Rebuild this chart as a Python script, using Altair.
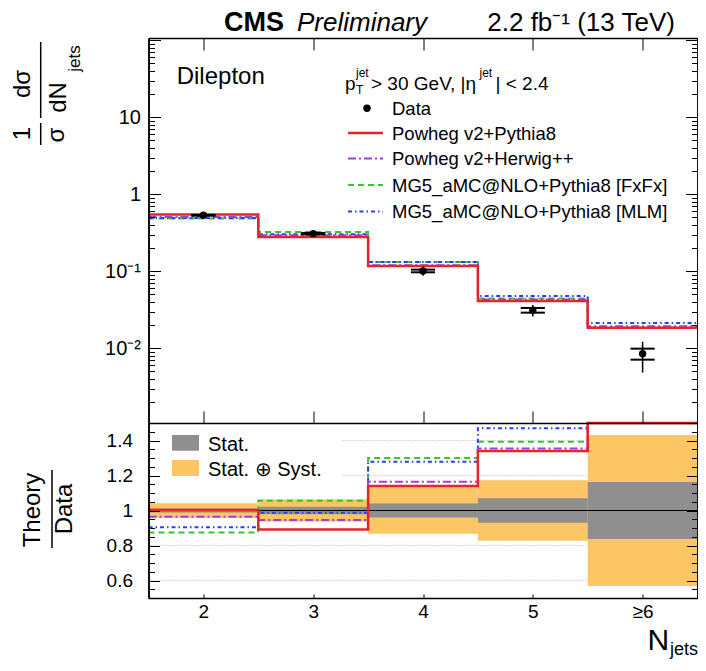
import json
import altair as alt
import pandas as pd

FONT = "Liberation Sans"

# ---------------- data ----------------
nj_centers = [2, 3, 4, 5, 6]
nj_labels = ["2", "3", "4", "5", "≥6"]

data_vals = [0.533, 0.308, 0.101, 0.0312, 0.0085]
stat_rel = [0.012, 0.021, 0.040, 0.070, 0.163]
total_rel = [0.042, 0.064, 0.133, 0.173, 0.431]

pred_pp8 = [0.545, 0.279, 0.117, 0.0412, 0.0184]
pred_phw = [0.508, 0.294, 0.120, 0.0429, 0.0193]
pred_fxfx = [0.483, 0.324, 0.132, 0.0442, 0.0184]
pred_mlm = [0.490, 0.303, 0.132, 0.0478, 0.0213]

ratio_pp8 = [1.003, 0.892, 1.140, 1.340, 2.16]
ratio_phw = [0.965, 0.946, 1.165, 1.355, 2.27]
ratio_fxfx = [0.875, 1.056, 1.300, 1.393, 2.16]
ratio_mlm = [0.904, 0.987, 1.279, 1.470, 2.51]

series_names = ["Powheg v2+Pythia8", "Powheg v2+Herwig++",
                "MG5_aMC@NLO+Pythia8 [FxFx]", "MG5_aMC@NLO+Pythia8 [MLM]"]
series_colors = ["#e3262b", "#a33be0", "#2fc82f", "#2b3cf5"]
series_dash = [[], [8, 3, 2, 3], [6, 4], [4, 3, 1.5, 3]]
series_width = [2.5, 2, 2, 2]
upper_preds = [pred_pp8, pred_phw, pred_fxfx, pred_mlm]
lower_ratios = [ratio_pp8, ratio_phw, ratio_fxfx, ratio_mlm]
draw_order = [2, 3, 1, 0]

# ---------------- geometry ----------------
W, HU, HL = 549, 385, 175
H = HU + HL
PAD = {"left": 140.5, "top": 30, "right": 0.5, "bottom": 63}

x_scale = alt.Scale(domain=[1.5, 6.5], nice=False, zero=False)
yu_scale = alt.Scale(type="log", domain=[1.07e-3, 107.0], range=[HU, 0], nice=False)
yl_scale = alt.Scale(domain=[0.5, 1.5], range=[H, HU], nice=False, zero=False, clamp=True)

edges = [c - 0.5 for c in nj_centers] + [nj_centers[-1] + 0.5]
half_cap = 0.11

one = pd.DataFrame({"k": [0]})
anchor = pd.DataFrame({"x": [2.0], "y": [1.0]})


def step_frame(vals):
    return pd.DataFrame({"x": edges, "y": list(vals) + [vals[-1]]})


def line_layer(vals, i, ys):
    kw = dict(color=series_colors[i], strokeWidth=series_width[i], interpolate="step-after")
    if series_dash[i]:
        kw["strokeDash"] = series_dash[i]
    return alt.Chart(step_frame(vals)).mark_line(**kw).encode(
        x=alt.X("x:Q", scale=x_scale, axis=None),
        y=alt.Y("y:Q", scale=ys, axis=None))


def txt(s, x, y, size, align="left", baseline="alphabetic", angle=0, **kw):
    props = dict(text=s, fontSize=size, font=FONT, align=align, baseline=baseline,
                 color="black", **kw)
    if angle:
        props["angle"] = angle
    return alt.Chart(one).mark_text(**props).encode(x=alt.value(x), y=alt.value(y))


def vbar(x, y1, y2, w=1.5):
    return alt.Chart(one).mark_rule(color="black", strokeWidth=w).encode(
        x=alt.value(x), y=alt.value(y1), y2=alt.value(y2))


def tick_axis(orient, offset, values, size):
    return alt.Axis(orient=orient, offset=offset, values=values, tickSize=size, ticks=True,
                    labels=False, domain=True, domainColor="black", domainWidth=1.5,
                    grid=False, title=None, tickColor="black", tickWidth=1, zindex=1)


def axis_layer(ys, xaxis, yaxis):
    return alt.Chart(anchor).mark_point(opacity=0).encode(
        x=alt.X("x:Q", scale=x_scale, axis=xaxis),
        y=alt.Y("y:Q", scale=ys, axis=yaxis))


layers = []

# ================= upper panel =================
dpts = pd.DataFrame({
    "x": nj_centers,
    "y": data_vals,
    "lo": [v * (1 - e) for v, e in zip(data_vals, total_rel)],
    "hi": [v * (1 + e) for v, e in zip(data_vals, total_rel)],
})
caps = pd.DataFrame({
    "xl": [c - half_cap for c in nj_centers] * 2,
    "xr": [c + half_cap for c in nj_centers] * 2,
    "y": [v * (1 + s) for v, s in zip(data_vals, stat_rel)]
         + [v * (1 - s) for v, s in zip(data_vals, stat_rel)],
})

u_major = [0.01, 0.1, 1, 10, 100]
u_minor = [m * 10.0 ** k for k in range(-3, 2) for m in range(2, 10)]

for i in draw_order:
    layers.append(line_layer(upper_preds[i], i, yu_scale))

layers.append(alt.Chart(dpts).mark_rule(color="black", strokeWidth=1.5).encode(
    x=alt.X("x:Q", scale=x_scale, axis=None),
    y=alt.Y("lo:Q", scale=yu_scale, axis=None), y2="hi:Q"))
layers.append(alt.Chart(caps).mark_rule(color="black", strokeWidth=2).encode(
    x=alt.X("xl:Q", scale=x_scale, axis=None), x2="xr:Q",
    y=alt.Y("y:Q", scale=yu_scale, axis=None)))
layers.append(alt.Chart(dpts).mark_circle(size=55, color="black", opacity=1).encode(
    x=alt.X("x:Q", scale=x_scale, axis=None),
    y=alt.Y("y:Q", scale=yu_scale, axis=None)))

u_label_axis = alt.Axis(orient="left", values=[0.01, 0.1, 1, 10],
                        labelExpr="datum.value < 0.05 ? '10⁻²' : datum.value < 0.5 ? '10⁻¹' : datum.value < 5 ? '1' : '10'",
                        ticks=False, tickSize=0, domain=False, grid=False, labelFontSize=20,
                        labelPadding=8, labelFont=FONT, labelColor="black", title=None,
                        labelOverlap=False, labelFlush=False)
layers += [
    axis_layer(yu_scale, tick_axis("bottom", -H, nj_centers, 12), u_label_axis),
    axis_layer(yu_scale, tick_axis("top", -HU, nj_centers, 12), tick_axis("right", -W, u_major, 12)),
    axis_layer(yu_scale, None, tick_axis("right", -W, u_minor, 6)),
    axis_layer(yu_scale, None, tick_axis("left", -W, u_major, 12)),
    axis_layer(yu_scale, None, tick_axis("left", -W, u_minor, 6)),
]

# header and annotations
layers += [
    txt("CMS", 75.5, -7, 27, fontWeight="bold"),
    txt("Preliminary", 148.5, -7, 26, fontStyle="italic"),
    txt("2.2 fb⁻¹ (13 TeV)", 526.5, -7, 26, align="right"),
    txt("Dilepton", 28.2, 46.3, 24),
    txt("p", 196.5, 52, 19),
    txt("jet", 207.5, 39, 12),
    txt("T", 207.5, 56, 12),
    txt("> 30 GeV, |η", 222.5, 52, 19),
    txt("jet", 331, 39, 12),
    txt("| < 2.4", 347, 52, 19),
]

# legend
leg_rows = [70.3, 95.0, 120.5, 147.0, 173.5]
layers.append(alt.Chart(one).mark_circle(size=55, color="black", opacity=1).encode(
    x=alt.value(218.5), y=alt.value(leg_rows[0])))
layers.append(txt("Data", 243.5, leg_rows[0] + 6.6, 18.5))
for j in range(4):
    kw = dict(color=series_colors[j], strokeWidth=series_width[j])
    if series_dash[j]:
        kw["strokeDash"] = series_dash[j]
    layers.append(alt.Chart(one).mark_rule(**kw).encode(
        x=alt.value(199.5), x2=alt.value(234.5), y=alt.value(leg_rows[j + 1])))
    layers.append(txt(series_names[j], 243.5, leg_rows[j + 1] + 6.6, 18.5))

# y title (rotated fraction)
layers += [
    txt("1", -125.5, 95.5, 24, align="center", baseline="middle", angle=270),
    txt("σ", -92, 97, 24, align="center", baseline="middle", angle=270),
    vbar(-107.8, 85, 107),
    txt("dσ", -125.5, 46, 24, align="center", baseline="middle", angle=270),
    txt("dN", -89.5, 59.5, 24, align="center", baseline="middle", angle=270),
    txt("jets", -73.5, 20.5, 17, align="center", baseline="middle", angle=270),
    vbar(-107.8, 4, 80),
]

# ================= lower panel =================
bands = pd.DataFrame({
    "xl": edges[:-1],
    "xr": edges[1:],
    "slo": [1 - s for s in stat_rel],
    "shi": [1 + s for s in stat_rel],
    "tlo": [1 - t for t in total_rel],
    "thi": [1 + t for t in total_rel],
})
grid_vals = pd.DataFrame({"g": [0.6, 0.8, 1.2, 1.4]})
unity = pd.DataFrame({"u": [1.0]})

l_major = [0.6, 0.8, 1.0, 1.2, 1.4]
l_minor = [0.55, 0.65, 0.7, 0.75, 0.85, 0.9, 0.95, 1.05, 1.1, 1.15, 1.25, 1.3, 1.35, 1.45]

layers += [
    alt.Chart(grid_vals).mark_rule(color="#b5b5b5", strokeWidth=1, strokeDash=[1, 2]).encode(
        y=alt.Y("g:Q", scale=yl_scale, axis=None)),
    alt.Chart(one).mark_rect(color="white").encode(
        x=alt.value(2), x2=alt.value(193), y=alt.value(HU + 2), y2=alt.value(HU + 58)),
    alt.Chart(bands).mark_rect(color="#fcc664").encode(
        x=alt.X("xl:Q", scale=x_scale, axis=None), x2="xr:Q",
        y=alt.Y("tlo:Q", scale=yl_scale, axis=None), y2="thi:Q"),
    alt.Chart(bands).mark_rect(color="#8f8f8f").encode(
        x=alt.X("xl:Q", scale=x_scale, axis=None), x2="xr:Q",
        y=alt.Y("slo:Q", scale=yl_scale, axis=None), y2="shi:Q"),
    alt.Chart(unity).mark_rule(color="black", strokeWidth=1).encode(
        y=alt.Y("u:Q", scale=yl_scale, axis=None)),
]
for i in draw_order:
    layers.append(line_layer(lower_ratios[i], i, yl_scale))

x_label_axis = alt.Axis(orient="bottom", values=nj_centers,
                        labelExpr=json.dumps(nj_labels, ensure_ascii=False) + "[datum.value - 2]",
                        ticks=False, tickSize=0, domain=False, grid=False, labelFontSize=19,
                        labelPadding=4, labelFont=FONT, labelColor="black", title=None,
                        labelOverlap=False, labelFlush=False)
l_label_axis = alt.Axis(orient="left", values=l_major,
                        labelExpr="datum.value == 1 ? '1' : format(datum.value, '.1f')",
                        ticks=False, tickSize=0, domain=False, grid=False, labelFontSize=19,
                        labelPadding=16, labelFont=FONT, labelColor="black", title=None,
                        labelOverlap=False, labelFlush=False)
layers += [
    axis_layer(yl_scale, x_label_axis, l_label_axis),
    axis_layer(yl_scale, tick_axis("top", -H, nj_centers, 4), tick_axis("right", -W, l_major, 11)),
    axis_layer(yl_scale, None, tick_axis("right", -W, l_minor, 6)),
    axis_layer(yl_scale, None, tick_axis("left", -W, l_major, 11)),
    axis_layer(yl_scale, None, tick_axis("left", -W, l_minor, 6)),
]

# legend of lower panel
layers += [
    alt.Chart(one).mark_rect(color="#8f8f8f").encode(
        x=alt.value(23.5), x2=alt.value(50.5), y=alt.value(HU + 12), y2=alt.value(HU + 27.7)),
    alt.Chart(one).mark_rect(color="#fcc664").encode(
        x=alt.value(23.5), x2=alt.value(50.5), y=alt.value(HU + 37), y2=alt.value(HU + 53)),
    txt("Stat.", 59.5, HU + 28, 20),
    txt("Stat. ⊕ Syst.", 59.5, HU + 53, 20),
]

# y title and x title
layers += [
    txt("Theory", -115.5, HU + 87, 24, align="center", baseline="middle", angle=270),
    txt("Data", -83.2, HU + 86, 24, align="center", baseline="middle", angle=270),
    vbar(-96.5, HU + 47, HU + 125),
    txt("N", 499, 612, 30),
    txt("jets", 521.5, 617, 18),
]

chart = alt.layer(*layers).properties(
    width=W, height=H,
    autosize=alt.AutoSizeParams(type="none"),
    padding=PAD,
).resolve_scale(y="independent").resolve_axis(
    x="independent", y="independent"
).configure_view(stroke="transparent")

chart.save("out.html", embed_options={"renderer": "svg", "actions": False})
